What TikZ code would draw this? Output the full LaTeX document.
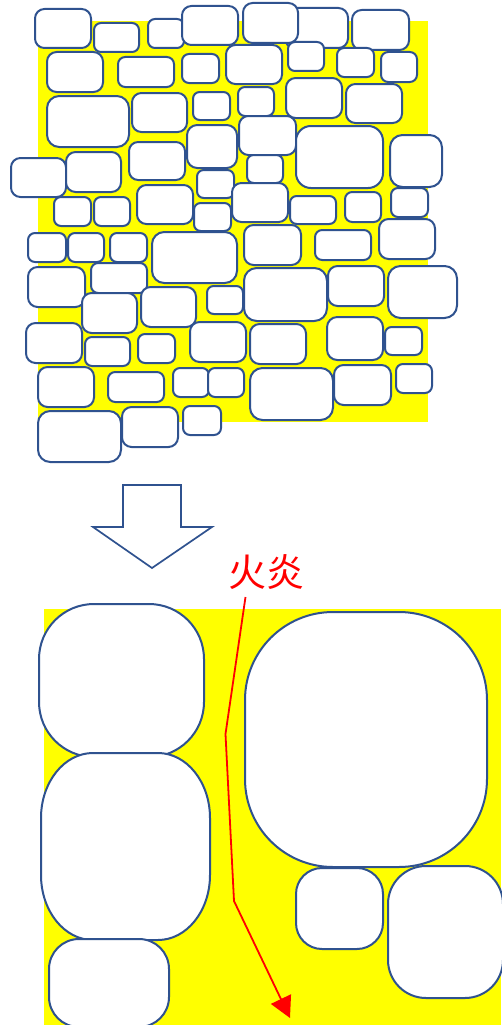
\documentclass[tikz,border=0pt]{standalone}
\usepackage{fontspec}
\newfontfamily\cjk{Noto Sans CJK SC}
\usetikzlibrary{arrows.meta}
\definecolor{stoneblue}{HTML}{2F528F}
\definecolor{ylw}{HTML}{FFFF00}
\tikzset{
  stone/.style={draw=stoneblue, line width=2pt, fill=white},
  bigarrow/.style={draw=stoneblue, line width=1.7pt, fill=white, line join=miter},
  fireline/.style={draw=red, line width=1.8pt, -{Triangle[length=21pt,width=22pt]}},
  firetext/.style={text=red, font=\cjk\fontsize{38}{40}\selectfont, inner sep=0pt}
}
\newcommand\bx[4]{\pgfmathsetmacro\myrad{0.24*min(#3-#1,#4-#2)}%
  \draw[stone, rounded corners=\myrad pt] (#1,#2) rectangle (#3,#4);}
\newcommand\ebx[6]{\draw[stone] (#1,#2+#6)
  arc[start angle=180,end angle=270,x radius=#5,y radius=#6] -- (#3-#5,#2)
  arc[start angle=270,end angle=360,x radius=#5,y radius=#6] -- (#3,#4-#6)
  arc[start angle=0,end angle=90,x radius=#5,y radius=#6] -- (#1+#5,#4)
  arc[start angle=90,end angle=180,x radius=#5,y radius=#6] -- cycle;}
\begin{document}
\begin{tikzpicture}[x=1pt,y=-1pt]
\useasboundingbox (0,0) rectangle (501,1025);
% top wall
\fill[ylw] (38,21) rectangle (428,422);
\bx{285}{8}{348}{48}
\bx{35}{9}{91}{48}
\bx{94}{23}{139}{52}
\bx{148}{19}{184}{48}
\bx{182}{6}{238}{45}
\bx{243}{3}{298}{43}
\bx{352}{10}{409}{50}
\bx{47}{52}{103}{92}
\bx{118}{57}{174}{87}
\bx{182}{54}{219}{83}
\bx{226}{45}{282}{84}
\bx{288}{42}{324}{71}
\bx{337}{48}{374}{77}
\bx{381}{52}{417}{82}
\bx{47}{96}{129}{147}
\bx{132}{93}{187}{132}
\bx{193}{92}{230}{120}
\bx{238}{87}{274}{116}
\bx{286}{78}{342}{118}
\bx{346}{84}{402}{123}
\bx{187}{125}{237}{168}
\bx{239}{116}{296}{155}
\bx{296}{126}{383}{188}
\bx{390}{135}{442}{187}
\bx{129}{142}{185}{180}
\bx{11}{158}{66}{197}
\bx{66}{152}{121}{192}
\bx{197}{170}{234}{198}
\bx{247}{155}{283}{183}
\bx{54}{197}{91}{226}
\bx{94}{197}{130}{226}
\bx{137}{185}{193}{224}
\bx{194}{203}{231}{231}
\bx{232}{183}{288}{222}
\bx{290}{196}{336}{224}
\bx{345}{192}{381}{222}
\bx{391}{188}{428}{217}
\bx{28}{233}{66}{262}
\bx{68}{233}{104}{262}
\bx{110}{233}{147}{262}
\bx{152}{232}{237}{283}
\bx{244}{225}{301}{265}
\bx{315}{230}{371}{260}
\bx{379}{219}{435}{259}
\bx{28}{267}{85}{307}
\bx{91}{263}{147}{293}
\bx{82}{293}{137}{333}
\bx{141}{287}{196}{327}
\bx{207}{286}{243}{314}
\bx{244}{268}{327}{321}
\bx{328}{266}{384}{306}
\bx{388}{266}{457}{318}
\bx{26}{323}{82}{363}
\bx{85}{337}{130}{366}
\bx{138}{334}{175}{363}
\bx{190}{322}{246}{362}
\bx{250}{324}{306}{364}
\bx{327}{317}{383}{360}
\bx{385}{327}{422}{355}
\bx{38}{367}{94}{407}
\bx{108}{372}{164}{402}
\bx{173}{368}{209}{397}
\bx{208}{368}{244}{397}
\bx{250}{368}{333}{420}
\bx{334}{365}{391}{405}
\bx{396}{364}{432}{393}
\bx{38}{411}{121}{462}
\bx{122}{407}{178}{447}
\bx{183}{406}{221}{435}
% block arrow
\draw[bigarrow] (123,485) -- (181,485) -- (181,527) -- (212,527) -- (152,568)
  -- (93,527) -- (123,527) -- cycle;
% bottom
\fill[ylw] (44,609) rectangle (501,1025);
\ebx{39}{604}{204}{757}{55}{55}
\ebx{41}{753}{210}{940}{52}{65}
\ebx{49}{939}{169}{1027}{30}{30}
\ebx{245}{612}{487}{867}{88}{88}
\ebx{296}{868}{383}{949}{26}{26}
\ebx{388}{866}{503}{998}{38}{38}
% flame
\node[firetext] (fire) at (266,572) {火炎};
\coordinate (f0) at (245.5,597);
\coordinate (f1) at (225.5,734);
\coordinate (f2) at (234,901);
\coordinate (f3) at (290,1018);
\draw[fireline] (f0) -- (f1) -- (f2) -- (f3);
\end{tikzpicture}
\end{document}
